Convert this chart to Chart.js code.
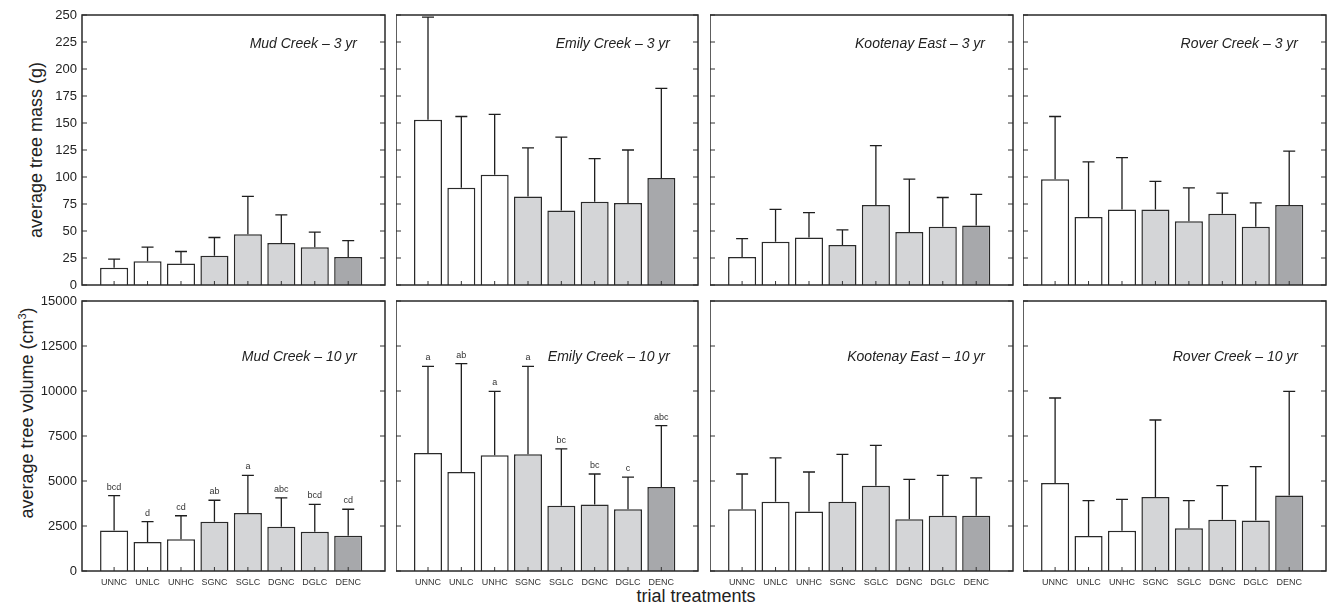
<!DOCTYPE html>
<html>
<head>
<meta charset="utf-8">
<script src="https://cdn.jsdelivr.net/npm/chart.js@4.4.1/dist/chart.umd.min.js"></script>
<style>
  body { margin: 0; background: #fff; font-family: "Liberation Sans", Arial, sans-serif; }
  #wrap { position: relative; width: 1327px; height: 611px; overflow: hidden; }
  .panel { position: absolute; }
  .lbl { position: absolute; white-space: nowrap; color: #222; font-size: 18px; transform: translate(-50%, -50%); }
  .rot { transform: translate(-50%, -50%) rotate(-90deg); }
  sup { font-size: 11px; }
</style>
</head>
<body>
<div id="wrap">
  <div class="lbl rot" style="left:36px;top:150px">average tree mass (g)</div>
  <div class="lbl rot" style="left:27px;top:413px">average tree volume (cm<sup>3</sup>)</div>
  <div class="lbl" style="left:696px;top:596px">trial treatments</div>
</div>
<script>
  // treatments and sites
  const treatments = ['UNNC', 'UNLC', 'UNHC', 'SGNC', 'SGLC', 'DGNC', 'DGLC', 'DENC'];
  const sites = ['Mud Creek', 'Emily Creek', 'Kootenay East', 'Rover Creek'];

  const massTicks = [0, 25, 50, 75, 100, 125, 150, 175, 200, 225, 250];
  const volumeTicks = [0, 2500, 5000, 7500, 10000, 12500, 15000];

  // 3 yr: mean tree mass (g) and top of error bar
  const mass3yr = [
    [16, 22, 20, 27, 47, 39, 35, 26],
    [153, 90, 102, 82, 69, 77, 76, 99],
    [26, 40, 44, 37, 74, 49, 54, 55],
    [98, 63, 70, 70, 59, 66, 54, 74]
  ];
  const massTop3yr = [
    [24, 35, 31, 44, 82, 65, 49, 41],
    [248, 156, 158, 127, 137, 117, 125, 182],
    [43, 70, 67, 51, 129, 98, 81, 84],
    [156, 114, 118, 96, 90, 85, 76, 124]
  ];

  // 10 yr: mean tree volume (cm3) and top of error bar
  const vol10yr = [
    [2250, 1610, 1760, 2740, 3220, 2460, 2180, 1960],
    [6560, 5500, 6430, 6480, 3630, 3700, 3430, 4670],
    [3430, 3850, 3300, 3850, 4740, 2870, 3070, 3070],
    [4890, 1940, 2240, 4110, 2370, 2850, 2800, 4190]
  ];
  const volTop10yr = [
    [4190, 2740, 3070, 3930, 5310, 4060, 3700, 3430],
    [11370, 11520, 9980, 11370, 6780, 5390, 5220, 8080],
    [5390, 6280, 5500, 6480, 6980, 5090, 5310, 5170],
    [9610, 3910, 3980, 8390, 3910, 4740, 5800, 9980]
  ];
  const letters10yr = [
    ['bcd', 'd', 'cd', 'ab', 'a', 'abc', 'bcd', 'cd'],
    ['a', 'ab', 'a', 'a', 'bc', 'bc', 'c', 'abc'],
    [],
    []
  ];

  const colLeft = [82, 396, 710, 1023];
  const colRight = [385, 698, 1013, 1326];

  function barColor(t) {
    if (t.startsWith('U')) return '#ffffff';
    if (t === 'DENC') return '#a7a8ab';
    return '#d4d5d7';
  }

  // frame, inward ticks, error bars, letters, panel title
  const deco = {
    id: 'deco',
    afterDatasetsDraw(chart) {
      const ctx = chart.ctx;
      const o = chart.options.plugins.deco;
      const y = chart.scales.y;
      const a = chart.chartArea;
      ctx.save();
      ctx.strokeStyle = '#1e1e1e';
      ctx.lineWidth = 1.3;
      chart.getDatasetMeta(0).data.forEach((bar, i) => {
        const yt = y.getPixelForValue(o.tops[i]);
        ctx.beginPath();
        ctx.moveTo(bar.x, bar.y);
        ctx.lineTo(bar.x, yt);
        ctx.moveTo(bar.x - 6, yt);
        ctx.lineTo(bar.x + 6, yt);
        ctx.stroke();
        if (o.letters[i]) {
          ctx.fillStyle = '#333';
          ctx.font = '9px "Liberation Sans", Arial';
          ctx.textAlign = 'center';
          ctx.textBaseline = 'bottom';
          ctx.fillText(o.letters[i], bar.x, yt - 4);
        }
      });
      // bottom tick marks
      ctx.strokeStyle = '#333';
      ctx.lineWidth = 1;
      chart.scales.x.ticks.forEach(t => {
        const px = chart.scales.x.getPixelForValue(t.value);
        ctx.beginPath();
        ctx.moveTo(px, a.bottom);
        ctx.lineTo(px, a.bottom - 4);
        ctx.stroke();
      });
      // y ticks inward on both sides
      y.ticks.forEach(t => {
        const py = y.getPixelForValue(t.value);
        ctx.beginPath();
        ctx.moveTo(a.left, py);
        ctx.lineTo(a.left + 5, py);
        ctx.moveTo(a.right, py);
        ctx.lineTo(a.right - 5, py);
        ctx.stroke();
      });
      ctx.strokeStyle = '#2a2a2a';
      ctx.lineWidth = 1.5;
      ctx.strokeRect(a.left, a.top, a.right - a.left, a.bottom - a.top);
      ctx.fillStyle = '#222';
      ctx.font = 'italic 14px "Liberation Sans", Arial';
      ctx.textAlign = 'right';
      ctx.textBaseline = 'middle';
      ctx.fillText(o.title, a.right - 28, a.top + o.titleDy);
      ctx.restore();
    }
  };

  function makePanel(row, col) {
    const isTop = row === 0;
    const means = isTop ? mass3yr[col] : vol10yr[col];
    const tops = isTop ? massTop3yr[col] : volTop10yr[col];
    const yTicks = isTop ? massTicks : volumeTicks;
    const divTop = isTop ? 0 : 286;
    const divH = isTop ? 300 : 325;
    const left = col === 0 ? 0 : colLeft[col];

    const div = document.createElement('div');
    div.className = 'panel';
    div.style.left = left + 'px';
    div.style.top = divTop + 'px';
    div.style.width = (colRight[col] - left + 1) + 'px';
    div.style.height = divH + 'px';
    const canvas = document.createElement('canvas');
    div.appendChild(canvas);
    document.getElementById('wrap').appendChild(div);

    new Chart(canvas, {
      type: 'bar',
      data: {
        datasets: [{
          data: means.map((v, i) => ({ x: i, y: v })),
          backgroundColor: treatments.map(barColor),
          borderColor: '#2a2a2a',
          borderWidth: 1.5,
          barPercentage: 0.84,
          categoryPercentage: 1
        }]
      },
      options: {
        responsive: true,
        maintainAspectRatio: false,
        animation: false,
        layout: { padding: { top: 15, left: 0, right: 1, bottom: 0 } },
        plugins: {
          legend: { display: false },
          tooltip: { enabled: false },
          deco: {
            tops: tops,
            letters: isTop ? [] : letters10yr[col],
            title: sites[col] + (isTop ? ' \u2013 3 yr' : ' \u2013 10 yr'),
            titleDy: isTop ? 29 : 56
          }
        },
        scales: {
          x: {
            type: 'linear',
            offset: false,
            min: -0.96,
            max: 8.1,
            grid: { display: false, drawTicks: false },
            border: { display: false },
            afterBuildTicks: s => { s.ticks = treatments.map((t, i) => ({ value: i })); },
            ticks: {
              display: !isTop,
              autoSkip: false,
              maxRotation: 0,
              padding: 6,
              color: '#333',
              font: { size: 9, family: '"Liberation Sans", Arial' },
              callback: v => treatments[v]
            },
            afterFit: s => { s.height = isTop ? 15 : 40; }
          },
          y: {
            min: 0,
            max: yTicks[yTicks.length - 1],
            grid: { display: false, drawTicks: false },
            border: { display: false },
            afterBuildTicks: s => { s.ticks = yTicks.map(v => ({ value: v })); },
            ticks: {
              display: col === 0,
              autoSkip: false,
              padding: 5,
              color: '#222',
              font: { size: 13, family: '"Liberation Sans", Arial' },
              callback: v => String(v)
            },
            afterFit: s => { s.width = col === 0 ? 82 : 0; }
          }
        }
      },
      plugins: [deco]
    });
  }

  for (let r = 0; r < 2; r++) {
    for (let c = 0; c < 4; c++) makePanel(r, c);
  }
</script>
</body>
</html>
